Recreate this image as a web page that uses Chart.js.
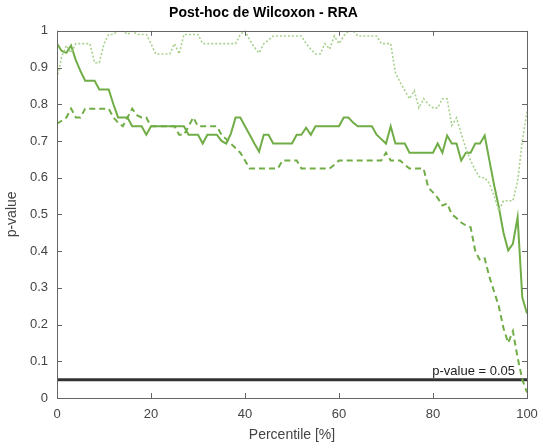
<!DOCTYPE html>
<html>
<head>
<meta charset="utf-8">
<script src="https://cdn.jsdelivr.net/npm/chart.js@4"></script>
<style>
  html, body { margin: 0; padding: 0; background: #fff; }
  #wrap { width: 543px; height: 448px; }
</style>
</head>
<body>
<div id="wrap"><canvas id="chart" width="543" height="448"></canvas></div>
<script>
// ============================================================
// Post-hoc de Wilcoxon - RRA : p-value by percentile
// ============================================================

const PERCENTILES = [
  0, 1, 2, 3, 4, 5, 6, 7, 8, 9, 10, 11, 12, 13, 14, 15, 16, 17, 18, 19,
  20, 21, 22, 23, 24, 25, 26, 27, 28, 29, 30, 31, 32, 33, 34, 35, 36, 37, 38, 39,
  40, 41, 42, 43, 44, 45, 46, 47, 48, 49, 50, 51, 52, 53, 54, 55, 56, 57, 58, 59,
  60, 61, 62, 63, 64, 65, 66, 67, 68, 69, 70, 71, 72, 73, 74, 75, 76, 77, 78, 79,
  80, 81, 82, 83, 84, 85, 86, 87, 88, 89, 90, 91, 92, 93, 94, 95, 96, 97, 98, 99,
  100,
];

// solid line
const SOLID = [
  0.965, 0.945, 0.94, 0.96, 0.92, 0.89, 0.864, 0.864, 0.864, 0.84, 0.84, 0.84, 0.80, 0.764, 0.764, 0.764, 0.74, 0.74, 0.74, 0.717,
  0.74, 0.74, 0.74, 0.74, 0.74, 0.74, 0.74, 0.74, 0.717, 0.717, 0.717, 0.693, 0.717, 0.717, 0.717, 0.70, 0.693, 0.72, 0.764, 0.764,
  0.74, 0.717, 0.693, 0.671, 0.717, 0.717, 0.693, 0.693, 0.693, 0.693, 0.693, 0.717, 0.717, 0.736, 0.717, 0.74, 0.74, 0.74, 0.74, 0.74,
  0.74, 0.764, 0.764, 0.75, 0.74, 0.74, 0.74, 0.74, 0.717, 0.705, 0.693, 0.74, 0.693, 0.693, 0.693, 0.668, 0.668, 0.668, 0.668, 0.668,
  0.668, 0.693, 0.668, 0.715, 0.693, 0.693, 0.647, 0.668, 0.668, 0.693, 0.693, 0.715, 0.647, 0.58, 0.52, 0.45, 0.402, 0.42, 0.492, 0.274,
  0.23,
];

// dashed line
const DASHED = [
  0.747, 0.755, 0.764, 0.788, 0.764, 0.764, 0.788, 0.788, 0.788, 0.788, 0.788, 0.788, 0.764, 0.75, 0.74, 0.764, 0.788, 0.77, 0.764, 0.764,
  0.74, 0.74, 0.74, 0.74, 0.74, 0.74, 0.717, 0.717, 0.74, 0.764, 0.74, 0.74, 0.74, 0.74, 0.74, 0.717, 0.705, 0.693, 0.68, 0.668,
  0.647, 0.625, 0.625, 0.625, 0.625, 0.625, 0.625, 0.625, 0.647, 0.647, 0.647, 0.647, 0.625, 0.625, 0.625, 0.625, 0.625, 0.625, 0.625, 0.635,
  0.647, 0.647, 0.647, 0.647, 0.647, 0.647, 0.647, 0.647, 0.647, 0.647, 0.668, 0.647, 0.647, 0.647, 0.635, 0.625, 0.625, 0.625, 0.625, 0.573,
  0.56, 0.545, 0.524, 0.53, 0.50, 0.49, 0.478, 0.47, 0.465, 0.40, 0.375, 0.38, 0.33, 0.29, 0.25, 0.19, 0.15, 0.182, 0.11, 0.05,
  0.015,
];

// dotted line
const DOTTED = [
  0.87, 0.93, 0.96, 0.94, 0.965, 0.965, 0.965, 0.965, 0.913, 0.913, 0.965, 0.99, 0.99, 1.0, 1.0, 0.99, 1.0, 0.99, 0.99, 0.99,
  0.965, 0.937, 0.937, 0.937, 0.937, 0.965, 0.937, 0.99, 0.99, 0.99, 0.99, 0.965, 0.965, 0.965, 0.965, 0.965, 0.965, 0.965, 0.965, 0.99,
  1.0, 0.975, 0.955, 0.94, 0.965, 0.975, 0.986, 0.986, 0.986, 0.986, 0.986, 0.986, 0.986, 0.965, 0.95, 0.937, 0.937, 0.965, 0.95, 0.986,
  0.965, 0.986, 1.0, 1.0, 0.986, 0.986, 0.986, 0.986, 0.986, 0.965, 0.965, 0.965, 0.886, 0.86, 0.837, 0.815, 0.837, 0.79, 0.815, 0.80,
  0.79, 0.79, 0.815, 0.815, 0.742, 0.763, 0.72, 0.68, 0.647, 0.62, 0.60, 0.60, 0.584, 0.55, 0.51, 0.537, 0.537, 0.537, 0.59, 0.70,
  0.78,
];

const THRESHOLD   = 0.05;
const THRESHOLD_X = [0, 100];
const X_TICKS     = [0, 20, 40, 60, 80, 100];
const Y_TICKS     = [0, 0.1, 0.2, 0.3, 0.4, 0.5, 0.6, 0.7, 0.8, 0.9, 1];
const Y_LABELS    = ['0', '0.1', '0.2', '0.3', '0.4', '0.5', '0.6', '0.7', '0.8', '0.9', '1'];

const GREEN       = '#70ad47';
const LIGHT_GREEN = '#a9d18e';
const FONT        = '"Liberation Sans", Arial, sans-serif';

function toPoints(xs, ys) {
  return xs.map((x, i) => ({ x: x, y: ys[i] }));
}

// inward ticks on all four sides + box, and the threshold label
const matlabFrame = {
  id: 'matlabFrame',
  afterDatasetsDraw(chart) {
    const { ctx, chartArea: a, scales } = chart;
    const xs = scales.x, ys = scales.y;
    ctx.save();
    ctx.strokeStyle = '#666';
    ctx.lineWidth = 1;
    ctx.beginPath();
    X_TICKS.forEach(v => {
      const px = Math.round(xs.getPixelForValue(v)) + 0.5;
      ctx.moveTo(px, a.bottom); ctx.lineTo(px, a.bottom - 5);
      ctx.moveTo(px, a.top);    ctx.lineTo(px, a.top + 5);
    });
    Y_TICKS.forEach(v => {
      const py = Math.round(ys.getPixelForValue(v)) + 0.5;
      ctx.moveTo(a.left, py);  ctx.lineTo(a.left + 5, py);
      ctx.moveTo(a.right, py); ctx.lineTo(a.right - 5, py);
    });
    ctx.stroke();
    ctx.strokeRect(Math.round(a.left) + 0.5, Math.round(a.top) + 0.5,
                   Math.round(a.right - a.left), Math.round(a.bottom - a.top));

    ctx.fillStyle = '#222';
    ctx.font = '13px ' + FONT;
    ctx.textAlign = 'right';
    ctx.textBaseline = 'alphabetic';
    ctx.fillText('p-value = 0.05', xs.getPixelForValue(100) - 12, ys.getPixelForValue(THRESHOLD) - 5);
    ctx.restore();
  }
};

new Chart(document.getElementById('chart'), {
  type: 'line',
  data: {
    datasets: [
      {
        label: 'dotted',
        data: toPoints(PERCENTILES, DOTTED),
        borderColor: LIGHT_GREEN,
        borderWidth: 1.6,
        borderDash: [2, 2],
        pointRadius: 0,
        tension: 0,
      },
      {
        label: 'dashed',
        data: toPoints(PERCENTILES, DASHED),
        borderColor: GREEN,
        borderWidth: 2,
        borderDash: [6, 4],
        pointRadius: 0,
        tension: 0,
      },
      {
        label: 'solid',
        data: toPoints(PERCENTILES, SOLID),
        borderColor: GREEN,
        borderWidth: 2,
        pointRadius: 0,
        tension: 0,
      },
      {
        label: 'p-value = 0.05',
        data: THRESHOLD_X.map(x => ({ x: x, y: THRESHOLD })),
        borderColor: '#333333',
        borderWidth: 3,
        pointRadius: 0,
      },
    ]
  },
  options: {
    responsive: false,
    animation: false,
    layout: { padding: { left: 0, right: 16, top: 0, bottom: 0 } },
    plugins: {
      legend: { display: false },
      tooltip: { enabled: false },
      title: {
        display: true,
        text: 'Post-hoc de Wilcoxon - RRA',
        color: '#000',
        font: { family: FONT, size: 14, weight: 'bold' },
        padding: { top: 5, bottom: 9 },
      },
    },
    scales: {
      x: {
        type: 'linear',
        min: 0, max: 100,
        afterBuildTicks: s => { s.ticks = X_TICKS.map(v => ({ value: v })); },
        afterFit: s => { s.height = 50; s.paddingLeft = 0; s.paddingRight = 0; },
        grid: { display: false, drawTicks: false },
        border: { display: false },
        ticks: { color: '#444', font: { family: FONT, size: 13 }, padding: 9, maxRotation: 0 },
        title: { display: true, text: 'Percentile [%]', color: '#444', font: { family: FONT, size: 14 }, padding: { top: 2 } },
      },
      y: {
        type: 'linear',
        min: 0, max: 1,
        afterBuildTicks: s => { s.ticks = Y_TICKS.map(v => ({ value: v })); },
        afterFit: s => { s.width = 57; s.paddingTop = 0; s.paddingBottom = 0; },
        grid: { display: false, drawTicks: false },
        border: { display: false },
        ticks: {
          color: '#444', font: { family: FONT, size: 13 }, padding: 9,
          callback: (v, i) => Y_LABELS[i],
        },
        title: { display: true, text: 'p-value', color: '#444', font: { family: FONT, size: 14 }, padding: { bottom: 0 } },
      },
    }
  },
  plugins: [matlabFrame]
});
</script>
</body>
</html>
